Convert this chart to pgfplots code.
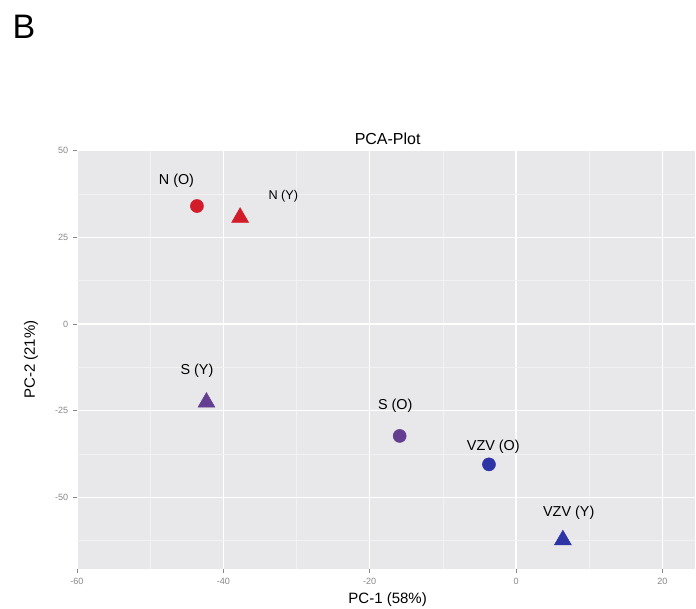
\documentclass[border=0pt]{standalone}
\usepackage{pgfplots}
\pgfplotsset{compat=1.18}
\usepackage{fontspec}
\setmainfont{Liberation Sans}
\definecolor{panel}{RGB}{232,232,234}
\definecolor{minorg}{RGB}{242,242,243}
\definecolor{cN}{RGB}{210,28,42}
\definecolor{cS}{RGB}{100,62,145}
\definecolor{cV}{RGB}{45,52,165}
\definecolor{tickgray}{RGB}{135,135,135}
\begin{document}
\begin{tikzpicture}
\begin{axis}[
  at={(0pt,0pt)}, anchor=south west,
  scale only axis, width=464.25pt, height=315pt,
  xmin=-60, xmax=24.5, ymin=-70.8, ymax=50.2,
  xtick={-60,-40,-20,0,20}, ytick={-50,-25,0,25,50},
  minor xtick={-50,-30,-10,10}, minor ytick={-62.5,-37.5,-12.5,12.5,37.5},
  xtick pos=left, ytick pos=left,
  grid=both,
  major grid style={white, line width=1pt},
  minor grid style={minorg, line width=0.5pt},
  axis background/.style={fill=panel},
  axis line style={draw=none},
  tick align=outside, major tick length=3pt, minor tick length=0pt,
  tick style={tickgray, line width=0.5pt},
  ticklabel style={font=\fontsize{6.8}{8}\selectfont, text=tickgray},
  /pgf/number format/assume math mode=true,
]
\addplot[only marks, mark=*, mark size=4.9pt, cN] coordinates {(-43.6,34.0)};
\addplot[only marks, mark=triangle*, mark size=7.3pt, cN] coordinates {(-37.7,30.7)};
\addplot[only marks, mark=triangle*, mark size=7.3pt, cS] coordinates {(-42.3,-22.6)};
\addplot[only marks, mark=*, mark size=4.9pt, cS] coordinates {(-15.9,-32.3)};
\addplot[only marks, mark=*, mark size=4.9pt, cV] coordinates {(-3.7,-40.5)};
\addplot[only marks, mark=triangle*, mark size=7.3pt, cV] coordinates {(6.4,-62.3)};
\node[font=\fontsize{10.8}{12}\selectfont] at (axis cs:-46.4,41.4) {N (O)};
\node[font=\fontsize{9.5}{11}\selectfont] at (axis cs:-31.8,36.8) {N (Y)};
\node[font=\fontsize{10.8}{12}\selectfont] at (axis cs:-43.6,-13.6) {S (Y)};
\node[font=\fontsize{10.8}{12}\selectfont] at (axis cs:-16.5,-23.6) {S (O)};
\node[font=\fontsize{10.8}{12}\selectfont] at (axis cs:-3.1,-35.4) {VZV (O)};
\node[font=\fontsize{10.8}{12}\selectfont] at (axis cs:7.2,-54.5) {VZV (Y)};
\end{axis}
\begin{scope}[shift={(-57.75pt,427.5pt)}, x=0.75pt, y=-0.75pt]
\useasboundingbox (0,0) rectangle (696,609);
\node[font=\fontsize{25.5}{28}\selectfont] at (24,27) {B};
\node[font=\fontsize{12}{14}\selectfont] at (388,139) {PCA-Plot};
\node[font=\fontsize{11.25}{13}\selectfont] at (388,600) {PC-1 (58\%)};
\node[font=\fontsize{11.25}{13}\selectfont, rotate=90] at (31,360) {PC-2 (21\%)};
\end{scope}
\end{tikzpicture}
\end{document}
